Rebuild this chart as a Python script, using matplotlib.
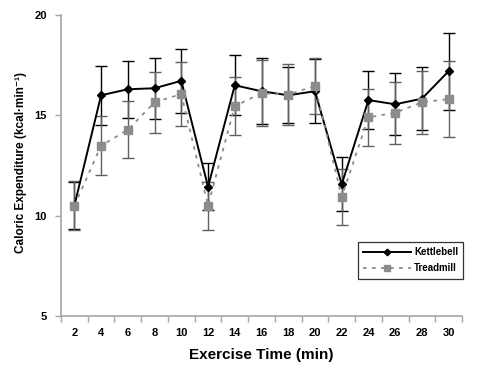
import matplotlib
matplotlib.use("Agg")
import matplotlib.pyplot as plt
from matplotlib.ticker import MultipleLocator, FixedLocator

plt.rcParams['font.family'] = ['Liberation Sans', 'DejaVu Sans']

times = [2, 4, 6, 8, 10, 12, 14, 16, 18, 20, 22, 24, 26, 28, 30]
kettlebell = [10.5, 16.0, 16.3, 16.35, 16.72, 11.44, 16.5, 16.2, 16.0, 16.2, 11.56, 15.76, 15.55, 15.83, 17.2]
kettlebell_sd = [1.18, 1.46, 1.43, 1.53, 1.6, 1.17, 1.5, 1.64, 1.4, 1.6, 1.35, 1.44, 1.55, 1.56, 1.91]
treadmill = [10.5, 13.49, 14.28, 15.65, 16.06, 10.5, 15.46, 16.1, 16.03, 16.47, 10.93, 14.9, 15.13, 15.65, 15.81]
treadmill_sd = [1.22, 1.46, 1.43, 1.52, 1.6, 1.2, 1.45, 1.64, 1.53, 1.4, 1.41, 1.43, 1.55, 1.57, 1.9]

fig = plt.figure(figsize=(4.79, 3.71), dpi=100)
ax = fig.add_axes([61/479, 1 - 316/371, (462 - 61)/479, (316 - 15)/371])

ax.errorbar(times, kettlebell, yerr=kettlebell_sd, fmt='none', ecolor='black',
            elinewidth=1.0, capsize=4, capthick=1.0, zorder=2)
ax.errorbar(times, treadmill, yerr=treadmill_sd, fmt='none', ecolor='#606060',
            elinewidth=1.0, capsize=4, capthick=1.0, zorder=2)
ax.plot(times, kettlebell, color='black', linestyle='-', linewidth=1.4,
        marker='D', markersize=4.2, markerfacecolor='black', markeredgecolor='black',
        label='Kettlebell', zorder=3)
ax.plot(times, treadmill, color='#8c8c8c', linestyle=(0, (2.0, 3.0)), linewidth=1.3,
        marker='s', markersize=6, markerfacecolor='#8c8c8c', markeredgecolor='#8c8c8c',
        label='Treadmill', zorder=4)

ax.set_xlim(1, 31)
ax.set_ylim(5, 20)
ax.xaxis.set_major_locator(FixedLocator(times))
ax.xaxis.set_minor_locator(FixedLocator([t - 1 for t in times] + [31]))
ax.yaxis.set_major_locator(MultipleLocator(5))

for s in ['top', 'right']:
    ax.spines[s].set_visible(False)
for s in ['left', 'bottom']:
    ax.spines[s].set_color('#a6a6a6')
    ax.spines[s].set_linewidth(1.2)

ax.tick_params(axis='x', which='major', length=0, pad=9, labelsize=8)
ax.tick_params(axis='x', which='minor', length=4, color='#a6a6a6', width=1)
ax.tick_params(axis='y', which='major', length=4, color='#a6a6a6', width=1, pad=6, labelsize=8)
for lbl in ax.get_xticklabels() + ax.get_yticklabels():
    lbl.set_fontweight('bold')

ax.set_xlabel('Exercise Time (min)', fontsize=11, fontweight='bold', labelpad=7)
ax.set_ylabel('Caloric Expenditure (kcal\u00b7min\u207b\u00b9)', fontsize=8.5, fontweight='bold')
ax.yaxis.set_label_coords(-0.085, 0.51)

leg = ax.legend(loc='upper left',
                bbox_to_anchor=((358 - 61)/401, 1 - (241.7 - 15)/301),
                prop={'size': 7, 'weight': 'bold'}, frameon=True, fancybox=False,
                edgecolor='black', handlelength=4.9, borderpad=0.55, labelspacing=0.65,
                handletextpad=0.3, borderaxespad=0, markerscale=0.8)
leg.get_frame().set_linewidth(0.9)

fig.savefig('out.png', dpi=100)
